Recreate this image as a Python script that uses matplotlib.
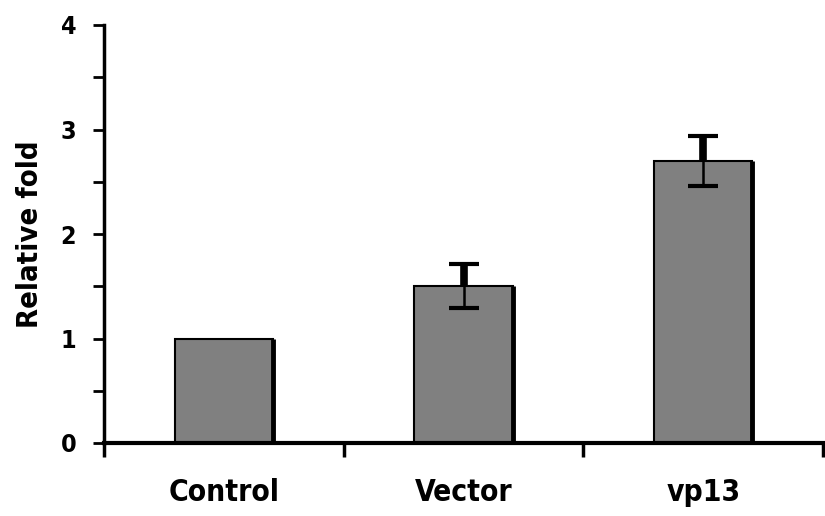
import matplotlib
matplotlib.use("Agg")
import matplotlib.pyplot as plt
from matplotlib.ticker import MultipleLocator, FixedLocator
from matplotlib import font_manager

categories = ["Control", "Vector", "vp13"]
values = [1.0, 1.5, 2.7]
errors = [0.0, 0.21, 0.24]
y_ticks = [0, 1, 2, 3, 4]
y_label = "Relative fold"

names = {f.name for f in font_manager.fontManager.ttflist}
cands = [n for n in ["Liberation Sans Narrow", "DejaVu Sans"] if n in names]
font = cands + ["DejaVu Sans"]
fstretch = "condensed"

fig = plt.figure(figsize=(8.25, 5.16), dpi=100)
ax = fig.add_axes([104/825, (516-443)/516, (823-104)/825, (443-25)/516])

x = list(range(len(categories)))
bw = 0.41
ax.bar(x, values, width=bw, color="#808080", edgecolor="black", linewidth=1.5, zorder=2)
# shadow on right edge of bars
ax.vlines([xi + bw/2 for xi in x], 0, values, color="black", linewidth=3.5, zorder=3)

for xi, v, e in zip(x, values, errors):
    if e <= 0:
        continue
    ax.errorbar([xi], [v], yerr=[[e], [e]], fmt="none", ecolor="black",
                elinewidth=1.8, capsize=11, capthick=3, zorder=4)
    ax.vlines([xi], v, v + e, color="black", linewidth=5.5, zorder=4)

ax.set_xlim(-0.5, len(categories) - 0.5)
ax.set_ylim(0, 4)

for s in ["top", "right"]:
    ax.spines[s].set_visible(False)
ax.spines["left"].set_linewidth(2.5)
ax.spines["bottom"].set_linewidth(3)

ax.set_yticks(y_ticks)
ax.yaxis.set_minor_locator(MultipleLocator(0.5))
ax.tick_params(axis="y", which="both", direction="out", length=8, width=2, pad=12)
ax.set_yticklabels([str(t) for t in y_ticks], fontsize=18, fontweight="heavy",
                   family=font, fontstretch=fstretch)

ax.set_xticks(x)
ax.set_xticklabels(categories, fontsize=21.5, fontweight="heavy", family=font, fontstretch=fstretch)
ax.tick_params(axis="x", which="major", length=0, pad=25)
ax.xaxis.set_minor_locator(FixedLocator([i - 0.5 for i in range(len(categories) + 1)]))
ax.tick_params(axis="x", which="minor", direction="out", length=10, width=2.5)

ax.set_ylabel(y_label, fontsize=21, fontweight="heavy", family=font, fontstretch=fstretch,
              labelpad=12)

fig.savefig("out.png", dpi=100)
